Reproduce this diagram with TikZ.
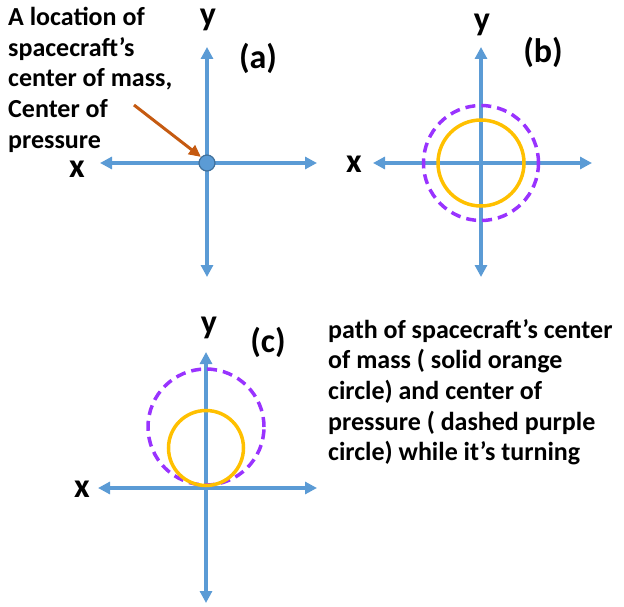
\documentclass[tikz,border=0pt]{standalone}
\usepackage{fontspec}
\setmainfont{Carlito}
\usetikzlibrary{arrows.meta}
\definecolor{axblue}{HTML}{5B9BD5}
\definecolor{dotedge}{HTML}{41719C}
\definecolor{cmorange}{HTML}{FFC000}
\definecolor{cppurple}{HTML}{9933FF}
\definecolor{arrorange}{HTML}{C55A11}
\tikzset{
  axis/.style={draw=axblue, line width=3.5pt, {Triangle[length=12pt,width=12pt]}-{Triangle[length=12pt,width=12pt]}},
  cmcircle/.style={draw=cmorange, line width=3.5pt},
  cpcircle/.style={draw=cppurple, line width=3.5pt, dash pattern=on 10pt off 6pt},
  axlabel/.style={font=\fontsize{34}{36}\selectfont\bfseries, inner sep=0pt},
  desc/.style={font=\fontsize{26}{30.7}\selectfont\bfseries, align=left, inner sep=0pt, anchor=north west},
}
\begin{document}
\begin{tikzpicture}[x=1pt,y=-1pt]
\useasboundingbox (0,0) rectangle (624,607);
% ---------- panel (a)
\coordinate (aL) at (100,163);
\coordinate (aR) at (317,163);
\coordinate (aT) at (207,47);
\coordinate (aB) at (207,277);
\draw[axis] (aL) -- (aR);
\draw[axis] (aB) -- (aT);
\node[circle, fill=axblue, draw=dotedge, line width=1.2pt, minimum size=16pt, inner sep=0pt] (dot) at (207,163) {};
\node[axlabel] (ya) at (208,20) {y};
\node[axlabel] (xa) at (77,169) {x};
\node[axlabel] (la) at (258,58) {(a)};
\node[desc] (ta) at (8,7) {A location of\\spacecraft’s\\center of mass,\\Center of\\pressure};
\coordinate (arrS) at (134,105);
\draw[draw=arrorange, line width=3pt, -{Triangle[length=12pt,width=11pt]}] (arrS) -- (dot.north west);
% ---------- panel (b)
\coordinate (bL) at (373,163);
\coordinate (bR) at (592,163);
\coordinate (bT) at (481,47);
\coordinate (bB) at (481,277);
\draw[axis] (bL) -- (bR);
\draw[axis] (bB) -- (bT);
\node[circle, cpcircle, minimum size=115pt, inner sep=0pt] (cpb) at (481,163) {};
\node[circle, cmcircle, minimum size=86pt, inner sep=0pt] (cmb) at (481,163) {};
\node[axlabel] (yb) at (482,25) {y};
\node[axlabel] (xb) at (354,164) {x};
\node[axlabel] (lb) at (543,52) {(b)};
% ---------- panel (c)
\coordinate (cL) at (98,488);
\coordinate (cR) at (317,488);
\coordinate (cT) at (206,352);
\coordinate (cB) at (206,603);
\draw[axis] (cL) -- (cR);
\draw[axis] (cB) -- (cT);
\node[circle, cpcircle, minimum size=116pt, inner sep=0pt] (cpc) at (206,427) {};
\node[circle, cmcircle, minimum size=75pt, inner sep=0pt] (cmc) at (206,448) {};
\node[axlabel] (yc) at (209,328) {y};
\node[axlabel] (xc) at (82,489) {x};
\node[axlabel] (lc) at (268,342) {(c)};
\node[desc] (tc) at (328,319) {path of spacecraft’s center\\of mass ( solid orange\\circle) and center of\\pressure ( dashed purple\\circle) while it’s turning};
\end{tikzpicture}
\end{document}
